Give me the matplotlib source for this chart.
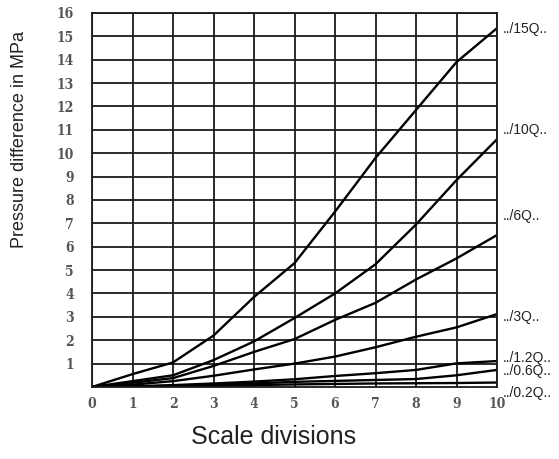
import matplotlib.pyplot as plt
import numpy as np

# Scale divisions (x) and pressure difference curves (MPa)
divisions = [0, 1, 2, 3, 4, 5, 6, 7, 8, 9, 10]
p_15q = [0, 0.55, 1.05, 2.2, 3.85, 5.3, 7.5, 9.8, 11.85, 13.9, 15.35]
p_10q = [0, 0.25, 0.5, 1.15, 1.95, 2.95, 4.0, 5.25, 6.95, 8.85, 10.6]
p_6q = [0, 0.18, 0.38, 0.9, 1.5, 2.05, 2.87, 3.6, 4.6, 5.5, 6.5]
p_3q = [0, 0.1, 0.25, 0.48, 0.75, 1.0, 1.3, 1.7, 2.15, 2.55, 3.12]
p_1_2q = [0, 0.03, 0.08, 0.15, 0.23, 0.33, 0.47, 0.59, 0.73, 1.01, 1.11]
p_0_6q = [0, 0.02, 0.05, 0.1, 0.15, 0.22, 0.26, 0.3, 0.34, 0.5, 0.73]
p_0_2q = [0, 0.01, 0.03, 0.05, 0.08, 0.11, 0.13, 0.15, 0.16, 0.17, 0.19]

curve_labels = ['../15Q..', '../10Q..', '../6Q..', '../3Q..', '../1.2Q..', '../0.6Q..', '../0.2Q..']
label_y = [15.3, 11.0, 7.3, 3.0, 1.25, 0.7, -0.25]
y_ticks = list(range(1, 17))

fig = plt.figure(figsize=(5.59, 4.59), dpi=100)
ax = fig.add_axes([0.1646, 0.1569, 0.7245, 0.8148])

# Grid
ax.set_xlim(0, 10)
ax.set_ylim(0, 16)
ax.set_xticks(divisions)
ax.set_yticks(y_ticks)
ax.grid(True, color='#1a1a1a', linewidth=1.3)
ax.set_axisbelow(True)
for sp in ax.spines.values():
    sp.set_color('#1a1a1a')
    sp.set_linewidth(1.3)

# Curves
for series in [p_15q, p_10q, p_6q, p_3q, p_1_2q, p_0_6q, p_0_2q]:
    ax.plot(divisions, series, color='black', lw=1.7, solid_joinstyle='round')

# Curve labels on the right
for lab, yy in zip(curve_labels, label_y):
    ax.text(10.15, yy, lab, fontsize=10, family='Liberation Sans', color='#222222',
            va='center', ha='left', clip_on=False)

ax.tick_params(length=0, labelsize=10, colors='#555555')
ax.tick_params(axis='x', pad=7)
ax.tick_params(axis='y', pad=13)
for t in ax.get_xticklabels() + ax.get_yticklabels():
    t.set_family('DejaVu Serif')
    t.set_fontstretch('condensed')
    t.set_fontweight('bold')

fig.text(0.035, 0.695, 'Pressure difference in MPa', rotation=90, fontsize=13,
         family='Liberation Sans', color='#222222', ha='center', va='center')
fig.text(0.49, 0.048, 'Scale divisions', fontsize=18,
         family='Liberation Sans', color='#222222', ha='center', va='center')

plt.savefig('out.png', dpi=100)
plt.close()
